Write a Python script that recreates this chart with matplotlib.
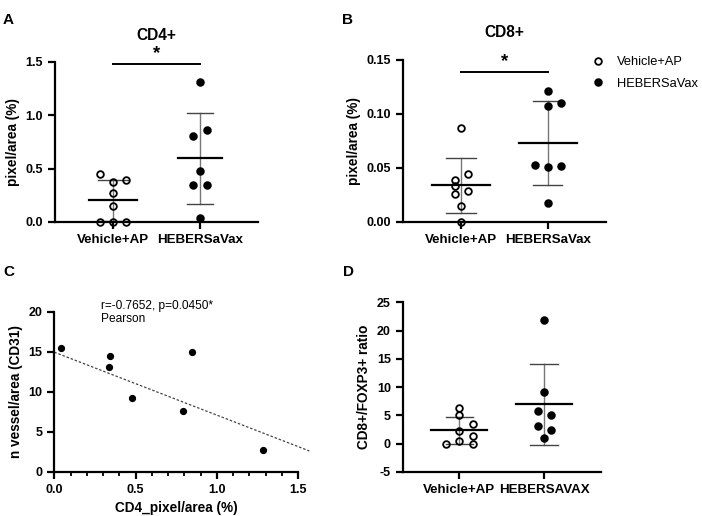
import numpy as np
import matplotlib
matplotlib.use('Agg')
import matplotlib.pyplot as plt
from matplotlib.lines import Line2D
from matplotlib.ticker import MultipleLocator, FormatStrFormatter

plt.rcParams['font.family'] = ['Liberation Sans', 'DejaVu Sans']

# group names
groups = ['Vehicle+AP', 'HEBERSaVax']
groups_d = ['Vehicle+AP', 'HEBERSAVAX']

# A: CD4+ pixel/area (%)
cd4_vehicle = [0.0, 0.0, 0.0, 0.147, 0.274, 0.374, 0.39, 0.446]
cd4_vehicle_jit = [-0.15, 0.0, 0.15, 0.0, 0.0, 0.0, 0.15, -0.15]
cd4_heber = [1.307, 0.861, 0.805, 0.477, 0.343, 0.343, 0.037]
cd4_heber_jit = [0.0, 0.075, -0.075, 0.0, -0.075, 0.075, 0.0]

# B: CD8+ pixel/area (%)
cd8_vehicle = [0.087, 0.044, 0.039, 0.033, 0.026, 0.029, 0.015, 0.0]
cd8_vehicle_jit = [0.0, 0.08, -0.07, -0.07, -0.07, 0.08, 0.0, 0.0]
cd8_heber = [0.121, 0.107, 0.110, 0.053, 0.051, 0.052, 0.018]
cd8_heber_jit = [0.0, 0.0, 0.15, -0.15, 0.0, 0.15, 0.0]

# C: correlation CD4 vs vessels
corr_x = [0.041, 0.342, 0.338, 0.476, 0.845, 0.794, 1.286]
corr_y = [15.43, 14.47, 13.06, 9.23, 14.97, 7.61, 2.74]
fit_intercept = 14.95
fit_slope = -7.85
fit_xmax = 1.57

# D: CD8+/FOXP3+ ratio
ratio_vehicle = [6.36, 5.0, 3.48, 2.3, 1.41, 0.0, 0.41, 0.0]
ratio_vehicle_jit = [0.0, 0.0, 0.157, 0.0, 0.157, -0.157, 0.0, 0.157]
ratio_heber = [21.9, 9.19, 5.83, 5.07, 3.18, 2.36, 1.06]
ratio_heber_jit = [0.0, 0.0, -0.08, 0.08, -0.08, 0.08, 0.0]

W, H = 702, 516
fig = plt.figure(figsize=(W / 100, H / 100), dpi=100)


def px_axes(left, top, right, bottom):
    return fig.add_axes([left / W, 1 - bottom / H, (right - left) / W, (bottom - top) / H])


def style(ax):
    for s in ['top', 'right']:
        ax.spines[s].set_visible(False)
    for s in ['left', 'bottom']:
        ax.spines[s].set_linewidth(1.6)
    ax.tick_params(width=1.6, length=5, labelsize=9)
    for lab in ax.get_xticklabels() + ax.get_yticklabels():
        lab.set_fontweight('bold')


def dot_group(ax, xc, vals, jit, filled, mean_half=0.3, cap_half=0.16, ms=4.8):
    vals = np.asarray(vals)
    m, sd = vals.mean(), vals.std(ddof=1)
    ax.plot([xc, xc], [m - sd, m + sd], color='#777777', lw=1.0, zorder=2, clip_on=False)
    for yv in (m - sd, m + sd):
        ax.plot([xc - cap_half, xc + cap_half], [yv, yv], color='#444444', lw=1.0, zorder=2, clip_on=False)
    ax.plot([xc - mean_half, xc + mean_half], [m, m], color='black', lw=1.6, zorder=3, clip_on=False)
    ax.plot(xc + np.asarray(jit), vals, 'o', ms=ms, mec='black', mew=1.3,
            mfc='black' if filled else 'none', ls='none', zorder=4, clip_on=False)


def category_panel(ax, ylabel, labels, ylim, yticks, fmt):
    ax.set_xlim(-0.667, 1.667)
    ax.set_ylim(*ylim)
    ax.set_xticks([0, 1])
    ax.set_xticklabels(labels)
    ax.set_yticks(yticks)
    ax.yaxis.set_major_formatter(FormatStrFormatter(fmt))
    ax.set_ylabel(ylabel, fontsize=9.8, fontweight='bold')
    style(ax)
    for lab in ax.get_xticklabels():
        lab.set_fontsize(9.6)


# ---- A
axA = px_axes(55, 61.7, 258, 222)
dot_group(axA, 0, cd4_vehicle, cd4_vehicle_jit, False, mean_half=0.28, cap_half=0.17)
dot_group(axA, 1, cd4_heber, cd4_heber_jit, True, mean_half=0.25, cap_half=0.15)
category_panel(axA, 'pixel/area (%)', groups, (0, 1.5), [0, 0.5, 1.0, 1.5], '%.1f')
axA.plot([0, 1], [1.48, 1.48], color='black', lw=1.4, clip_on=False)
axA.text(0.5, 1.495, '*', ha='center', va='bottom', fontsize=13.5, fontweight='bold')
axA.set_title('CD4+', fontsize=11.2, fontweight='bold', pad=15.5)

# ---- B
axB = px_axes(402.7, 60, 606, 222)
dot_group(axB, 0, cd8_vehicle, cd8_vehicle_jit, False, mean_half=0.33, cap_half=0.17)
dot_group(axB, 1, cd8_heber, cd8_heber_jit, True, mean_half=0.33, cap_half=0.167)
category_panel(axB, 'pixel/area (%)', groups, (0, 0.15), [0, 0.05, 0.10, 0.15], '%.2f')
axB.plot([0, 1], [0.139, 0.139], color='black', lw=1.4, clip_on=False)
axB.text(0.5, 0.1405, '*', ha='center', va='bottom', fontsize=13.5, fontweight='bold')
axB.set_title('CD8+', fontsize=11.2, fontweight='bold', pad=16.5)

handles = [Line2D([], [], marker='o', ls='none', ms=4.8, mec='black', mew=1.3, mfc='none'),
           Line2D([], [], marker='o', ls='none', ms=4.8, mec='black', mew=1.3, mfc='black')]
fig.legend(handles, groups, loc='center left', bbox_to_anchor=(585 / W, 1 - 73 / H),
           frameon=False, fontsize=9.3, handlelength=1.0, handletextpad=0.95, labelspacing=0.75,
           borderpad=0)

# ---- C
axC = px_axes(54.3, 311.7, 298, 472)
axC.plot(corr_x, corr_y, 'o', ms=4.2, color='black', ls='none', zorder=3)
fx = np.array([0, fit_xmax])
axC.plot(fx, fit_intercept + fit_slope * fx, ls=(0, (2, 1.5)), color='#444444', lw=0.9, clip_on=False)
axC.set_xlim(0, 1.5)
axC.set_ylim(0, 20)
axC.xaxis.set_major_locator(MultipleLocator(0.5))
axC.xaxis.set_minor_locator(MultipleLocator(0.1))
axC.xaxis.set_major_formatter(FormatStrFormatter('%.1f'))
axC.yaxis.set_major_locator(MultipleLocator(5))
axC.tick_params(which='minor', width=1.3, length=3)
style(axC)
axC.set_xlabel('CD4_pixel/area (%)', fontsize=9.8, fontweight='bold')
axC.set_ylabel('n vessel/area (CD31)', fontsize=9.8, fontweight='bold')
axC.text(0.29, 21.5, 'r=-0.7652, p=0.0450*\nPearson', ha='left', va='top', fontsize=8.6,
         linespacing=1.1, clip_on=False)

# ---- D
axD = px_axes(402.7, 302.3, 601, 472)
dot_group(axD, 0, ratio_vehicle, ratio_vehicle_jit, False, mean_half=0.33, cap_half=0.157)
dot_group(axD, 1, ratio_heber, ratio_heber_jit, True, mean_half=0.33, cap_half=0.165)
category_panel(axD, 'CD8+/FOXP3+ ratio', groups_d, (-5, 25), list(range(-5, 26, 5)), '%d')

# panel letters
for letter, x, y in [('A', 3, 20), ('B', 342, 20), ('C', 3, 272), ('D', 343, 272)]:
    fig.text(x / W, 1 - y / H, letter, fontsize=11, fontweight='bold', va='center', ha='left')

fig.savefig('out.png', dpi=100)
